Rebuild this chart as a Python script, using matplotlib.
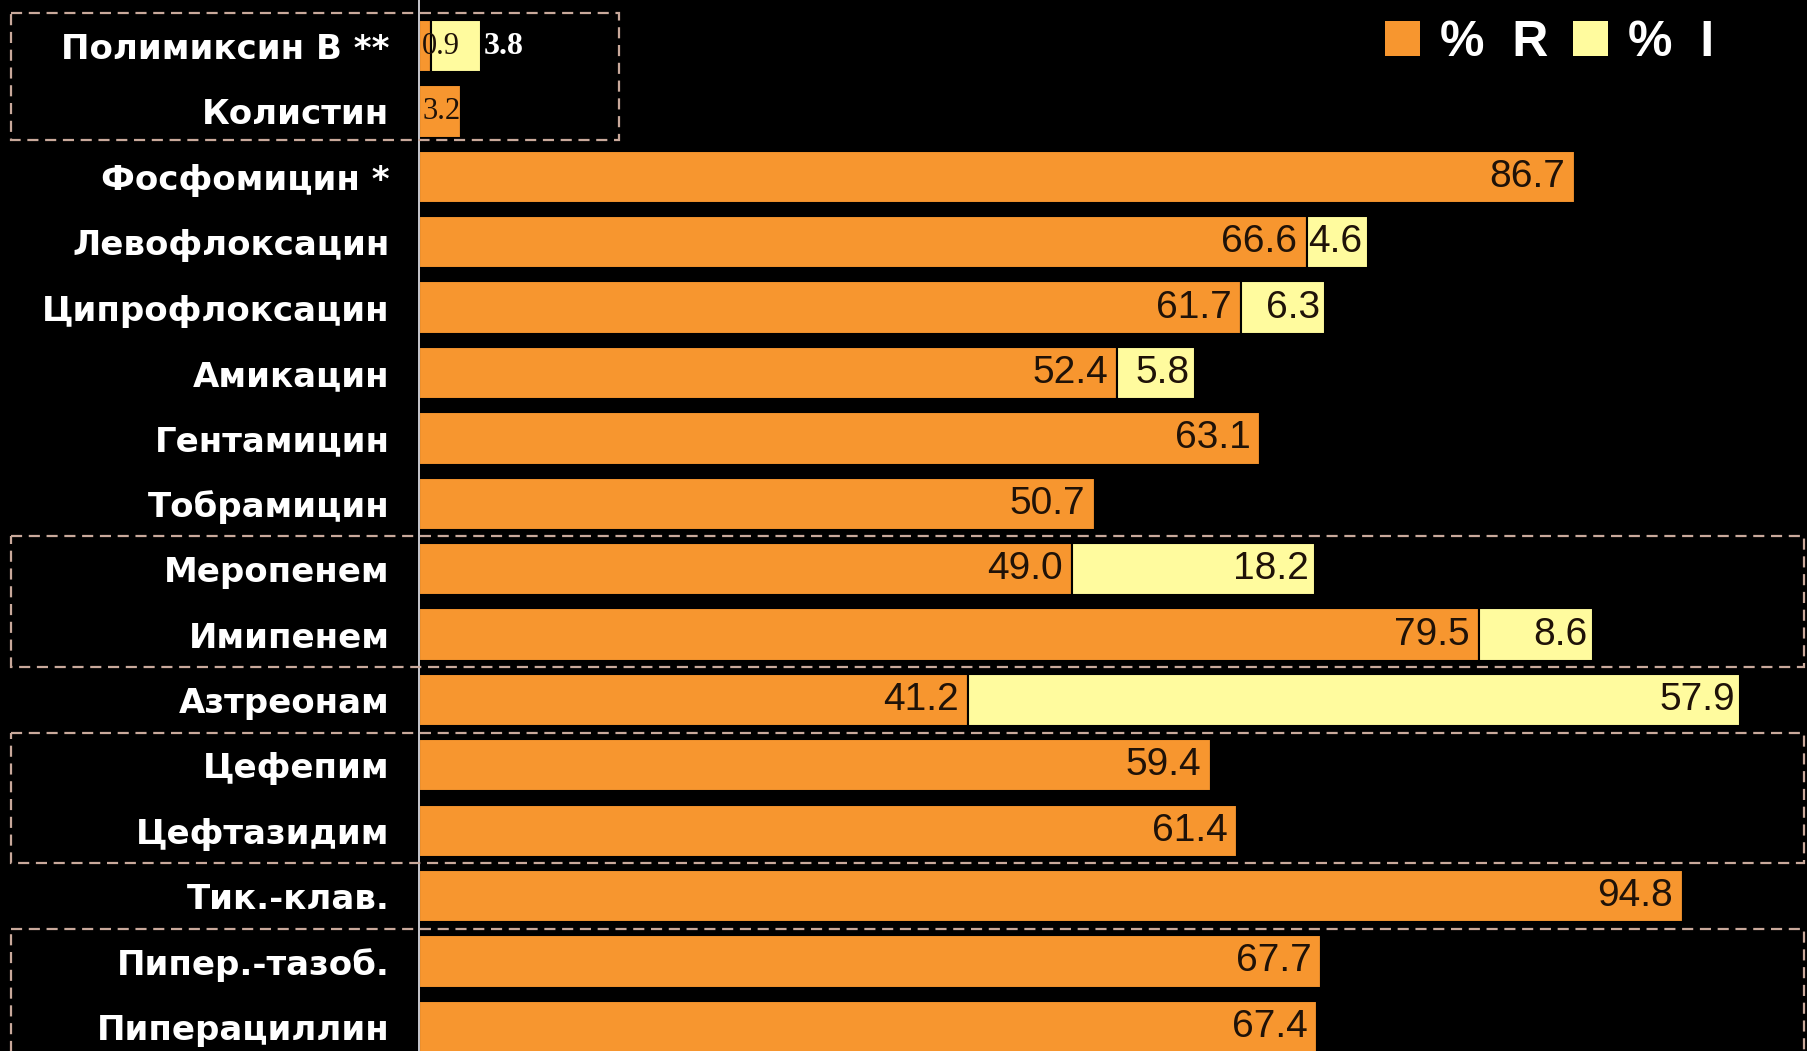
# -*- coding: utf-8 -*-
from matplotlib import pyplot as plt
from matplotlib.patches import Rectangle, Patch

ORANGE = '#F7962F'
YELLOW = '#FFFB9E'
DARK = '#1f1208'
DASH = '#c9a99b'

drugs = ['Полимиксин В **', 'Колистин', 'Фосфомицин *', 'Левофлоксацин',
         'Ципрофлоксацин', 'Амикацин', 'Гентамицин', 'Тобрамицин',
         'Меропенем', 'Имипенем', 'Азтреонам', 'Цефепим', 'Цефтазидим',
         'Тик.-клав.', 'Пипер.-тазоб.', 'Пиперациллин']
pct_r = [0.9, 3.2, 86.7, 66.6, 61.7, 52.4, 63.1, 50.7,
         49.0, 79.5, 41.2, 59.4, 61.4, 94.8, 67.7, 67.4]
pct_i = [3.8, 0, 0, 4.6, 6.3, 5.8, 0, 0,
         18.2, 8.6, 57.9, 0, 0, 0, 0, 0]
# groups framed by dashed boxes: (first row, last row)
groups = [(0, 1), (8, 9), (11, 12), (14, 15)]


def plot_res():
    fig = plt.figure(figsize=(18.08, 10.51), dpi=100, facecolor='black')
    ax = fig.add_axes([0.2315, 0.0, 0.7685, 1.0])
    ax.set_facecolor('black')

    y = list(range(len(drugs)))
    ax.barh(y, pct_r, height=0.8, color=ORANGE, edgecolor='black', linewidth=1.5, zorder=2)
    ax.barh(y, pct_i, left=pct_r, height=0.8, color=YELLOW, edgecolor='black', linewidth=1.5, zorder=2)

    ax.set_xlim(0, 104.2)
    ax.set_ylim(15.37, -0.705)

    for s in ['top', 'right', 'bottom']:
        ax.spines[s].set_visible(False)
    ax.spines['left'].set_color('#e8e8f0')
    ax.spines['left'].set_linewidth(1.2)
    ax.set_xticks([])
    ax.set_yticks(y)
    ax.set_yticklabels(drugs, color='white', fontsize=24.5, fontweight='bold',
                       family='DejaVu Sans')
    ax.tick_params(axis='y', length=0, pad=21)

    # value labels
    for i, (r, v) in enumerate(zip(pct_r, pct_i)):
        if i < 2:
            # tiny bars: small serif labels
            ax.text(0.28, i, f'{r:.1f}', color=DARK, fontsize=22, family='Liberation Serif',
                    ha='left', va='center', zorder=4)
            if v > 0:
                ax.text(r + v + 0.2, i, f'{v:.1f}', color='white', fontsize=23, fontweight='bold',
                        family='Liberation Serif', ha='left', va='center', zorder=4)
            continue
        ax.text(r - 0.7, i, f'{r:.1f}', color=DARK, fontsize=28, family='Liberation Sans',
                ha='right', va='center', zorder=4)
        if v > 0:
            ax.text(r + v - 0.4, i, f'{v:.1f}', color=DARK, fontsize=28, family='Liberation Sans',
                    ha='right', va='center', zorder=4)

    # dashed group boxes
    for k, (a, b) in enumerate(groups):
        x0 = -30.6
        x1 = 15.0 if k == 0 else 103.9
        top = a - 0.5
        bot = b + 0.43 if k == 0 else b + 0.5
        ax.add_patch(Rectangle((x0, top), x1 - x0, bot - top, fill=False, edgecolor=DASH,
                               linestyle=(0, (5, 3)), linewidth=1.6, clip_on=False, zorder=3))

    handles = [Patch(facecolor=ORANGE, edgecolor='none', label='%  R'),
               Patch(facecolor=YELLOW, edgecolor='none', label='%  I')]
    leg = fig.legend(handles=handles, loc='upper right', bbox_to_anchor=(0.973, 1.024), ncol=2,
                     frameon=False, handlelength=0.7, handleheight=0.7, handletextpad=0.4,
                     columnspacing=0.5, prop={'family': 'Liberation Sans', 'weight': 'bold', 'size': 36})
    for t in leg.get_texts():
        t.set_color('white')

    plt.savefig('out.png', dpi=100, facecolor='black')
    plt.close()


if __name__ == '__main__':
    plot_res()
